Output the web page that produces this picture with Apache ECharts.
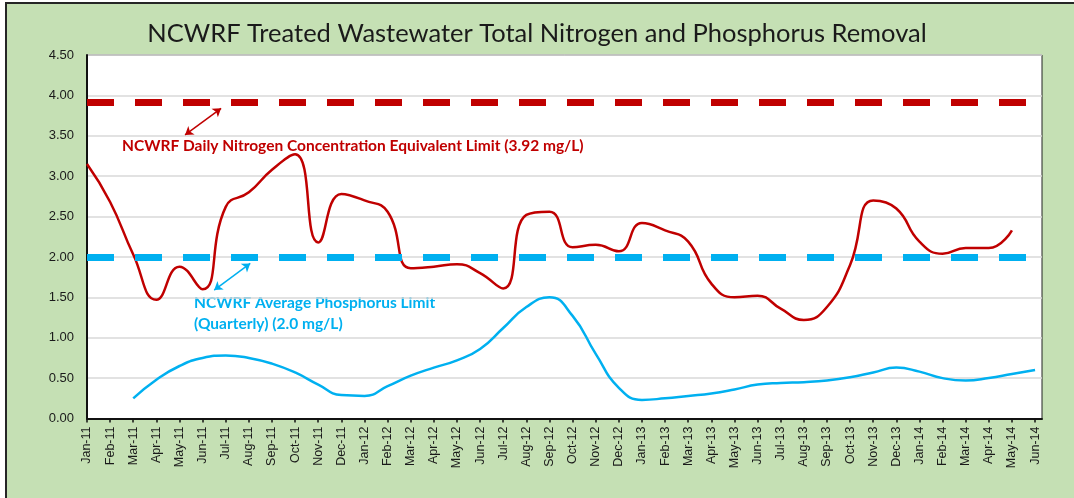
<!DOCTYPE html>
<html>
<head>
<meta charset="utf-8">
<script src="https://cdn.jsdelivr.net/npm/echarts@6/dist/echarts.min.js"></script>
<style>
  html, body { margin: 0; padding: 0; background: #fff; overflow: hidden; }
  #frame { position: absolute; left: 5px; top: 2px; width: 1100px; height: 520px; border: 2px solid #262626; background: #c5e0b4; }
  #main { position: absolute; left: 0; top: 0; width: 1074px; height: 498px; }
</style>
</head>
<body>
<div id="frame"></div>
<div id="main"></div>
<script>
// month labels on the date axis
var months = [
  "Jan-11", "Feb-11", "Mar-11", "Apr-11", "May-11", "Jun-11", "Jul-11", "Aug-11", "Sep-11", "Oct-11", "Nov-11", "Dec-11",
  "Jan-12", "Feb-12", "Mar-12", "Apr-12", "May-12", "Jun-12", "Jul-12", "Aug-12", "Sep-12", "Oct-12", "Nov-12", "Dec-12",
  "Jan-13", "Feb-13", "Mar-13", "Apr-13", "May-13", "Jun-13", "Jul-13", "Aug-13", "Sep-13", "Oct-13", "Nov-13", "Dec-13",
  "Jan-14", "Feb-14", "Mar-14", "Apr-14", "May-14", "Jun-14"
];

// monthly total nitrogen, Jan-11 .. May-14 (mg/L)
var nitrogen = [
  3.15, 2.68, 2.03, 1.47, 1.88, 1.60, 2.62, 2.80, 3.08, 3.27, 2.18, 2.78,
  2.70, 2.56, 1.86, 1.88, 1.91, 1.80, 1.61, 2.52, 2.56, 2.12, 2.15, 2.07,
  2.42, 2.33, 2.19, 1.67, 1.50, 1.52, 1.36, 1.22, 1.38, 1.90, 2.70, 2.60,
  2.19, 2.04, 2.11, 2.11, 2.33
];

// phosphorus, Mar-11 .. Jun-14 (mg/L)
var phosStart = "Mar-11";
var phosphorus = [
  0.25, 0.48, 0.65, 0.75, 0.78, 0.75, 0.68, 0.57, 0.42, 0.29,
  0.28, 0.40, 0.53, 0.63, 0.72, 0.86, 1.12, 1.38, 1.50, 1.27, 0.80, 0.38,
  0.23, 0.25, 0.28, 0.31, 0.36, 0.42, 0.44, 0.45, 0.47, 0.51, 0.57, 0.63,
  0.58, 0.50, 0.47, 0.50, 0.55, 0.60
];

var nitrogenLimit = 3.92;
var phosLimit = 2.0;

var red = "#c00000";
var blue = "#00b0f0";

var tickIdx = months.map(function (m, i) { return i; });
var p0 = months.indexOf(phosStart);

var chart = echarts.init(document.getElementById("main"));

var option = {
  animation: false,
  title: {
    text: "NCWRF Treated Wastewater Total Nitrogen and Phosphorus Removal",
    left: "center",
    top: 16,
    textStyle: { fontFamily: "Lato", fontSize: 25.5, fontWeight: "normal", color: "#1a1a1a" }
  },
  grid: {
    left: 87, top: 55, right: 32, bottom: 79.5,
    show: true, backgroundColor: "#fff", borderColor: "#222", borderWidth: 1
  },
  xAxis: {
    type: "value",
    min: 0,
    max: 41.3,
    interval: 1,
    axisLine: { lineStyle: { color: "#111", width: 2 } },
    axisTick: { customValues: tickIdx, length: 4, lineStyle: { color: "#111", width: 1.5 } },
    axisLabel: {
      customValues: tickIdx,
      rotate: 90,
      margin: 8,
      fontFamily: "Liberation Sans",
      fontSize: 12.5,
      color: "#1a1a1a",
      formatter: function (v) { return months[v] || ""; }
    },
    splitLine: { show: false }
  },
  yAxis: {
    type: "value",
    min: 0,
    max: 4.5,
    interval: 0.5,
    axisLine: { show: true, lineStyle: { color: "#111", width: 2 } },
    axisTick: { show: false },
    axisLabel: {
      margin: 13,
      fontFamily: "Liberation Sans",
      fontSize: 13,
      color: "#1a1a1a",
      formatter: function (v) { return v.toFixed(2); }
    },
    splitLine: { lineStyle: { color: "#d9d9d9", width: 1.5 } }
  },
  series: [
    {
      name: "Phosphorus",
      type: "line",
      smooth: true,
      symbol: "none",
      lineStyle: { color: blue, width: 2.5 },
      data: phosphorus.map(function (v, i) { return [p0 + i, v]; }),
      markLine: {
        silent: true,
        symbol: "none",
        symbolSize: 8,
        label: { show: false },
        lineStyle: { color: blue, width: 1.5, type: "solid" },
        data: [
          { yAxis: phosLimit, lineStyle: { color: blue, width: 7, type: [27, 21] } },
          [{ coord: [5.5, 1.59], symbol: "arrow" }, { coord: [7.06, 1.92], symbol: "arrow" }]
        ]
      }
    },
    {
      name: "Nitrogen",
      type: "line",
      smooth: true,
      symbol: "none",
      lineStyle: { color: red, width: 2.5 },
      data: nitrogen.map(function (v, i) { return [i, v]; }),
      markLine: {
        silent: true,
        symbol: "none",
        symbolSize: 8,
        label: { show: false },
        lineStyle: { color: red, width: 1.5, type: "solid" },
        data: [
          { yAxis: nitrogenLimit, lineStyle: { color: red, width: 7, type: [27, 21] } },
          [{ coord: [4.24, 3.51], symbol: "arrow" }, { coord: [5.8, 3.84], symbol: "arrow" }]
        ]
      }
    }
  ],
  graphic: [
    {
      type: "text", left: 122, top: 135,
      style: { text: "NCWRF Daily Nitrogen Concentration Equivalent Limit (3.92 mg/L)", fill: red, font: "bold 15.5px Lato", lineHeight: 21 }
    },
    {
      type: "text", left: 194, top: 292,
      style: { text: "NCWRF Average Phosphorus Limit\n(Quarterly) (2.0 mg/L)", fill: blue, font: "bold 15.5px Lato", lineHeight: 21 }
    }
  ]
};

chart.setOption(option);
</script>
</body>
</html>
